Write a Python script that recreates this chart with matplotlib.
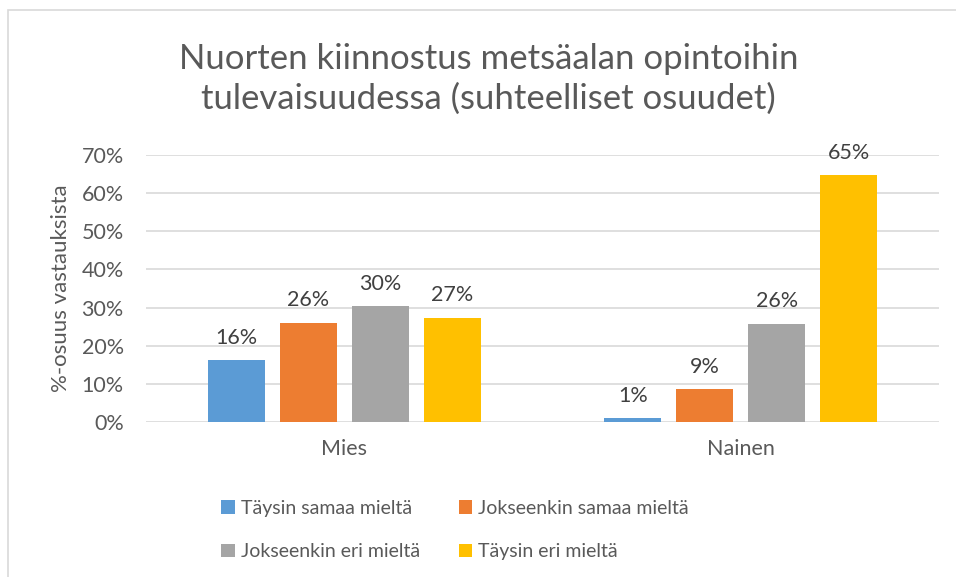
import matplotlib.pyplot as plt
import numpy as np
from matplotlib.patches import Rectangle, Patch

categories = ['Mies', 'Nainen']
series_names = ['Täysin samaa mieltä', 'Jokseenkin samaa mieltä',
                'Jokseenkin eri mieltä', 'Täysin eri mieltä']
values = [
    [16.2, 1.05],   # Täysin samaa mieltä
    [26.1, 8.6],    # Jokseenkin samaa mieltä
    [30.3, 25.8],   # Jokseenkin eri mieltä
    [27.4, 64.6],   # Täysin eri mieltä
]
colors = ['#5B9BD5', '#ED7D31', '#A5A5A5', '#FFC000']
yticks = [0, 10, 20, 30, 40, 50, 60, 70]

title = 'Nuorten kiinnostus metsäalan opintoihin\ntulevaisuudessa (suhteelliset osuudet)'
ylabel = '%-osuus vastauksista'

text_color = '#595959'
grid_color = '#D9D9D9'

plt.rcParams['font.family'] = ['Lato', 'DejaVu Sans']

fig = plt.figure(figsize=(9.56, 5.77), dpi=100)
ax = fig.add_axes([146 / 956, 1 - 422.3 / 577, (939 - 146) / 956, (422.3 - 154.7) / 577])

# chart border (left and top visible)
fig.patches.append(Rectangle((8 / 956, -0.1), 1.2, 1.1 - 10 / 577, transform=fig.transFigure,
                             fill=False, edgecolor='#D9D9D9', linewidth=1.2))

x = np.arange(len(categories))
width = 0.1438
step = 0.1816
for i, (name, vals) in enumerate(zip(series_names, values)):
    offset = (i - 1.5) * step
    bars = ax.bar(x + offset, vals, width, color=colors[i], label=name, zorder=3)
    ax.bar_label(bars, labels=[f"{round(v)}%" for v in vals], padding=9,
                 fontsize=15.5, color='#404040')

ax.set_xlim(-0.5, 1.5)
ax.set_ylim(0, 70)
ax.set_yticks(yticks)
ax.set_yticklabels([f"{t}%" for t in yticks])
ax.set_xticks(x)
ax.set_xticklabels(categories)
ax.tick_params(axis='both', length=0, labelsize=15.5, labelcolor=text_color)
ax.tick_params(axis='y', pad=16)
ax.tick_params(axis='x', pad=12)
ax.grid(axis='y', color=grid_color, linewidth=1.2, zorder=0)
for s in ax.spines.values():
    s.set_visible(False)

ax.set_ylabel(ylabel, fontsize=16, color=text_color)
ax.yaxis.set_label_coords(-0.094, 0.5)

fig.text(0.511, 1 - 79 / 577, title, ha='center', va='center', fontsize=25,
         color=text_color, linespacing=1.3)

# legend fills column by column, so reorder to get row-wise layout
handles = [Patch(facecolor=colors[i], label=series_names[i]) for i in [0, 2, 1, 3]]
fig.legend(handles=handles, ncol=2, loc='center', bbox_to_anchor=(455 / 956, 1 - 530 / 577),
           frameon=False, fontsize=14, labelcolor=text_color, handlelength=0.7,
           handleheight=0.7, handletextpad=0.3, columnspacing=2.0, labelspacing=1.35)

plt.savefig('out.png', dpi=100)
